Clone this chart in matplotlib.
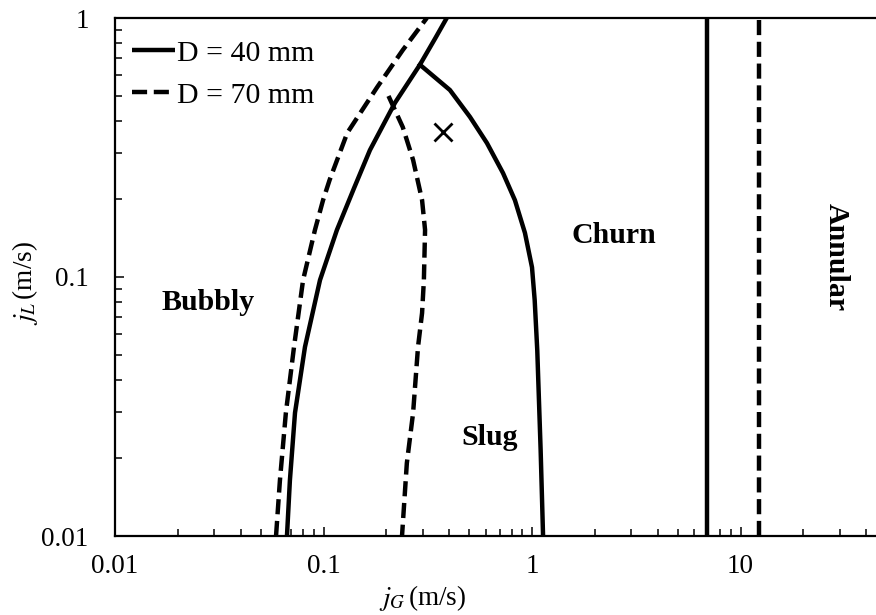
import matplotlib
matplotlib.use("Agg")
import matplotlib.pyplot as plt
from matplotlib.ticker import FixedLocator, LogLocator, FuncFormatter, NullFormatter

plt.rcParams["font.family"] = ["Liberation Serif", "DejaVu Serif"]
plt.rcParams["mathtext.fontset"] = "stix"

# Transition boundaries, superficial gas velocity jG vs liquid velocity jL (m/s)
bs40_jg = [0.0668, 0.069, 0.073, 0.0815, 0.0962, 0.116, 0.140, 0.167, 0.220, 0.290, 0.345, 0.390]
bs40_jl = [0.010, 0.0164, 0.0299, 0.0537, 0.0973, 0.152, 0.220, 0.309, 0.470, 0.660, 0.840, 1.000]

bs70_jg = [0.0592, 0.0618, 0.066, 0.0722, 0.0798, 0.091, 0.0995, 0.107, 0.130, 0.181, 0.240, 0.313]
bs70_jl = [0.010, 0.0164, 0.0299, 0.0537, 0.0973, 0.152, 0.198, 0.237, 0.360, 0.541, 0.752, 1.000]

sc40_jg = [0.290, 0.404, 0.504, 0.608, 0.726, 0.828, 0.925, 1.00, 1.03, 1.06, 1.10, 1.13]
sc40_jl = [0.660, 0.527, 0.415, 0.329, 0.252, 0.198, 0.148, 0.109, 0.0815, 0.052, 0.0215, 0.010]

sc70_jg = [0.205, 0.240, 0.269, 0.297, 0.307, 0.303, 0.297, 0.284, 0.269, 0.251, 0.238]
sc70_jl = [0.500, 0.379, 0.283, 0.198, 0.152, 0.0973, 0.0726, 0.0537, 0.0299, 0.0191, 0.010]

ca40_jg = [6.9, 6.9]
ca70_jg = [12.2, 12.2]
ca_jl = [0.01, 1.0]

point_jg = [0.374]
point_jl = [0.363]

regions = ["Bubbly", "Slug", "Churn", "Annular"]
region_jg = [0.0279, 0.629, 2.47, 28.7]
region_jl = [0.0794, 0.0239, 0.144, 0.119]
region_rot = [0, 0, 0, -90]

x_ticks = [0.01, 0.1, 1, 10]
y_ticks = [0.01, 0.1, 1]

fig = plt.figure(figsize=(8.76, 6.15), dpi=100)
ax = fig.add_axes([115 / 876, 79 / 615, 834 / 876, 518 / 615])
ax.set_xscale("log")
ax.set_yscale("log")
ax.set_xlim(0.01, 100)
ax.set_ylim(0.01, 1)

lw = 3.2
dash = (3.4, 1.5)
ax.plot(bs40_jg, bs40_jl, color="black", lw=lw, solid_capstyle="butt", label="D = 40 mm")
ax.plot(bs70_jg, bs70_jl, color="black", lw=lw, dashes=dash, label="D = 70 mm")
ax.plot(sc40_jg, sc40_jl, color="black", lw=lw)
ax.plot(sc70_jg, sc70_jl, color="black", lw=lw, dashes=dash)
ax.plot(ca40_jg, ca_jl, color="black", lw=lw)
ax.plot(ca70_jg, ca_jl, color="black", lw=lw, dashes=dash)
ax.plot(point_jg, point_jl, linestyle="none", marker="x", color="black",
        markersize=13, markeredgewidth=2.0)

for name, gx, ly, rot in zip(regions, region_jg, region_jl, region_rot):
    ax.text(gx, ly, name, ha="center", va="center", rotation=rot,
            fontsize=21.5, fontweight="bold")

for side in ["top", "bottom", "left", "right"]:
    ax.spines[side].set_linewidth(1.6)

ax.xaxis.set_major_locator(FixedLocator(x_ticks))
ax.yaxis.set_major_locator(FixedLocator(y_ticks))
ax.xaxis.set_minor_locator(LogLocator(base=10, subs=range(2, 10), numticks=20))
ax.yaxis.set_minor_locator(LogLocator(base=10, subs=range(2, 10), numticks=20))
fmt = FuncFormatter(lambda v, p: "%g" % v)
ax.xaxis.set_major_formatter(fmt)
ax.yaxis.set_major_formatter(fmt)
ax.xaxis.set_minor_formatter(NullFormatter())
ax.yaxis.set_minor_formatter(NullFormatter())
ax.tick_params(which="both", direction="in", top=False, right=False, width=1.1)
ax.tick_params(which="major", length=6.5)
ax.tick_params(which="minor", length=5)
ax.tick_params(axis="x", which="major", pad=13, labelsize=19.5)
ax.tick_params(axis="y", which="major", pad=19, labelsize=19.5)

fig.text(423 / 876, 1 - 598 / 615, r"$j_G\,$(m/s)", ha="center", va="center", fontsize=19.5)
fig.text(25 / 876, 1 - 283 / 615, r"$j_L\,$(m/s)", ha="center", va="center",
         rotation=90, fontsize=19.5)

ax.legend(loc="upper left", bbox_to_anchor=(17 / 834, 1 - 22 / 518), frameon=False,
          fontsize=21.5, handlelength=1.44, handletextpad=0.08, borderpad=0,
          borderaxespad=0, labelspacing=0.5)

fig.savefig("out.png", dpi=100)
